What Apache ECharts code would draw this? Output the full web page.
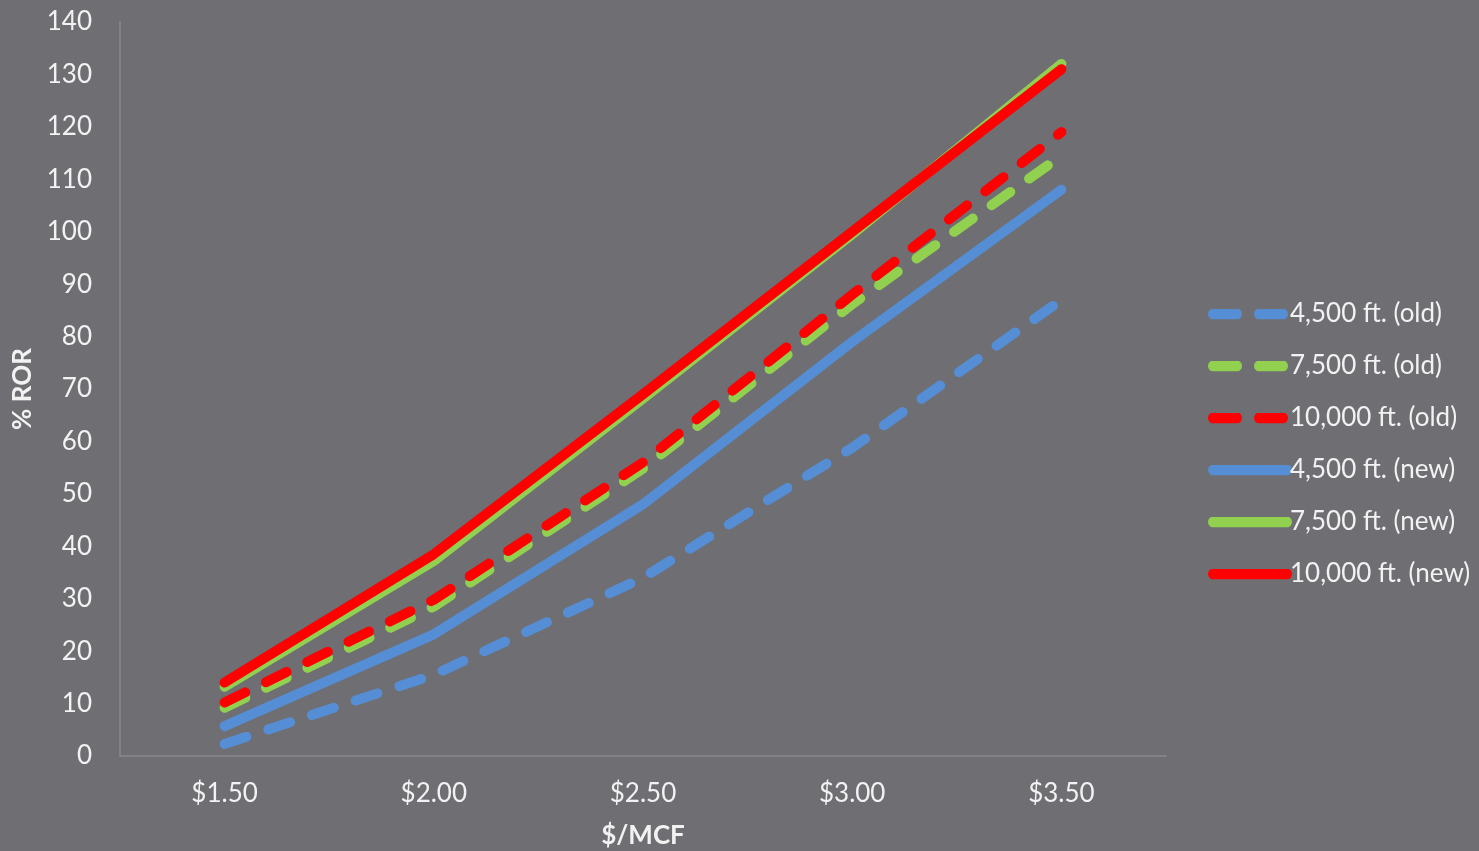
<!DOCTYPE html>
<html>
<head>
<meta charset="utf-8">
<script src="https://cdn.jsdelivr.net/npm/echarts@6/dist/echarts.min.js"></script>
<style>
  html, body { margin: 0; padding: 0; background: #6f6e73; }
  #chart { width: 1479px; height: 851px; }
</style>
</head>
<body>
<div id="chart"></div>
<script>
// Gas price per MCF
const prices = ['$1.50', '$2.00', '$2.50', '$3.00', '$3.50'];

// Rate of return (%) by lateral length, old vs new design
const old4500  = [2.3, 15.5, 34, 58.8, 87];
const old7500  = [9.2, 28.5, 54.8, 86.2, 114.5];
const old10000 = [10.2, 29.8, 56, 88, 119];
const new4500  = [5.7, 23.2, 48, 79, 108];
const new7500  = [13.2, 37.2, 68.2, 99.5, 132];
const new10000 = [14, 38.5, 69, 100, 131];

const seriesNames = ['4,500 ft. (old)', '7,500 ft. (old)', '10,000 ft. (old)',
                     '4,500 ft. (new)', '7,500 ft. (new)', '10,000 ft. (new)'];

const BLUE = '#558ed5', GREEN = '#92d050', RED = '#ff0000';
const FONT = 'Lato';
const FS = 26;

// Legend swatch: rounded stroke, either two dashes or one solid bar
function swatch(color, dashed) {
  const bars = dashed
    ? `<rect x="0" y="0" width="34" height="11" rx="5.5" fill="${color}"/>` +
      `<rect x="46" y="0" width="34" height="11" rx="5.5" fill="${color}"/>`
    : `<rect x="0" y="0" width="84" height="11" rx="5.5" fill="${color}"/>`;
  const svg = `<svg xmlns="http://www.w3.org/2000/svg" width="84" height="11">${bars}</svg>`;
  return 'image://data:image/svg+xml;charset=utf-8,' + encodeURIComponent(svg);
}

function lineSeries(name, data, color, dashed) {
  return {
    name: name,
    type: 'line',
    data: data,
    symbol: 'none',
    smooth: false,
    lineStyle: {
      color: color,
      width: 10,
      type: dashed ? [23, 23] : 'solid',
      cap: 'round',
      join: 'round'
    },
    itemStyle: { color: color }
  };
}

const legendData = [
  { name: seriesNames[0], icon: swatch(BLUE, true) },
  { name: seriesNames[1], icon: swatch(GREEN, true) },
  { name: seriesNames[2], icon: swatch(RED, true) },
  { name: seriesNames[3], icon: swatch(BLUE, false) },
  { name: seriesNames[4], icon: swatch(GREEN, false) },
  { name: seriesNames[5], icon: swatch(RED, false) }
];

const chart = echarts.init(document.getElementById('chart'));
chart.setOption({
  backgroundColor: '#6f6e73',
  animation: false,
  textStyle: { fontFamily: FONT },
  grid: { left: 120, right: 313, top: 22, bottom: 95, containLabel: false, outerBoundsMode: 'none' },
  legend: {
    orient: 'vertical',
    left: 1203,
    top: 296,
    itemWidth: 84,
    itemHeight: 11,
    itemGap: 26,
    textStyle: { color: '#f2f2f2', fontSize: FS, fontFamily: FONT, padding: [0, 0, 0, -7] },
    data: legendData
  },
  xAxis: {
    type: 'category',
    data: prices,
    boundaryGap: true,
    name: '$/MCF',
    nameLocation: 'middle',
    nameGap: 67,
    nameTextStyle: { color: '#f2f2f2', fontSize: FS, fontWeight: 'bold', fontFamily: FONT },
    axisLine: { show: true, lineStyle: { color: '#8a898e', width: 1.5 } },
    axisTick: { show: false },
    axisLabel: { color: '#f2f2f2', fontSize: FS, margin: 25, fontFamily: FONT },
    splitLine: { show: false }
  },
  yAxis: {
    type: 'value',
    min: 0,
    max: 140,
    interval: 10,
    name: '% ROR',
    nameLocation: 'middle',
    nameRotate: 90,
    nameGap: 84,
    nameTextStyle: { color: '#f2f2f2', fontSize: FS, fontWeight: 'bold', fontFamily: FONT },
    axisLine: { show: true, lineStyle: { color: '#8a898e', width: 1.5 } },
    axisTick: { show: false },
    axisLabel: { color: '#f2f2f2', fontSize: FS, margin: 28, fontFamily: FONT },
    splitLine: { show: false }
  },
  series: [
    lineSeries(seriesNames[0], old4500, BLUE, true),
    lineSeries(seriesNames[1], old7500, GREEN, true),
    lineSeries(seriesNames[2], old10000, RED, true),
    lineSeries(seriesNames[3], new4500, BLUE, false),
    lineSeries(seriesNames[4], new7500, GREEN, false),
    lineSeries(seriesNames[5], new10000, RED, false)
  ]
});
</script>
</body>
</html>
